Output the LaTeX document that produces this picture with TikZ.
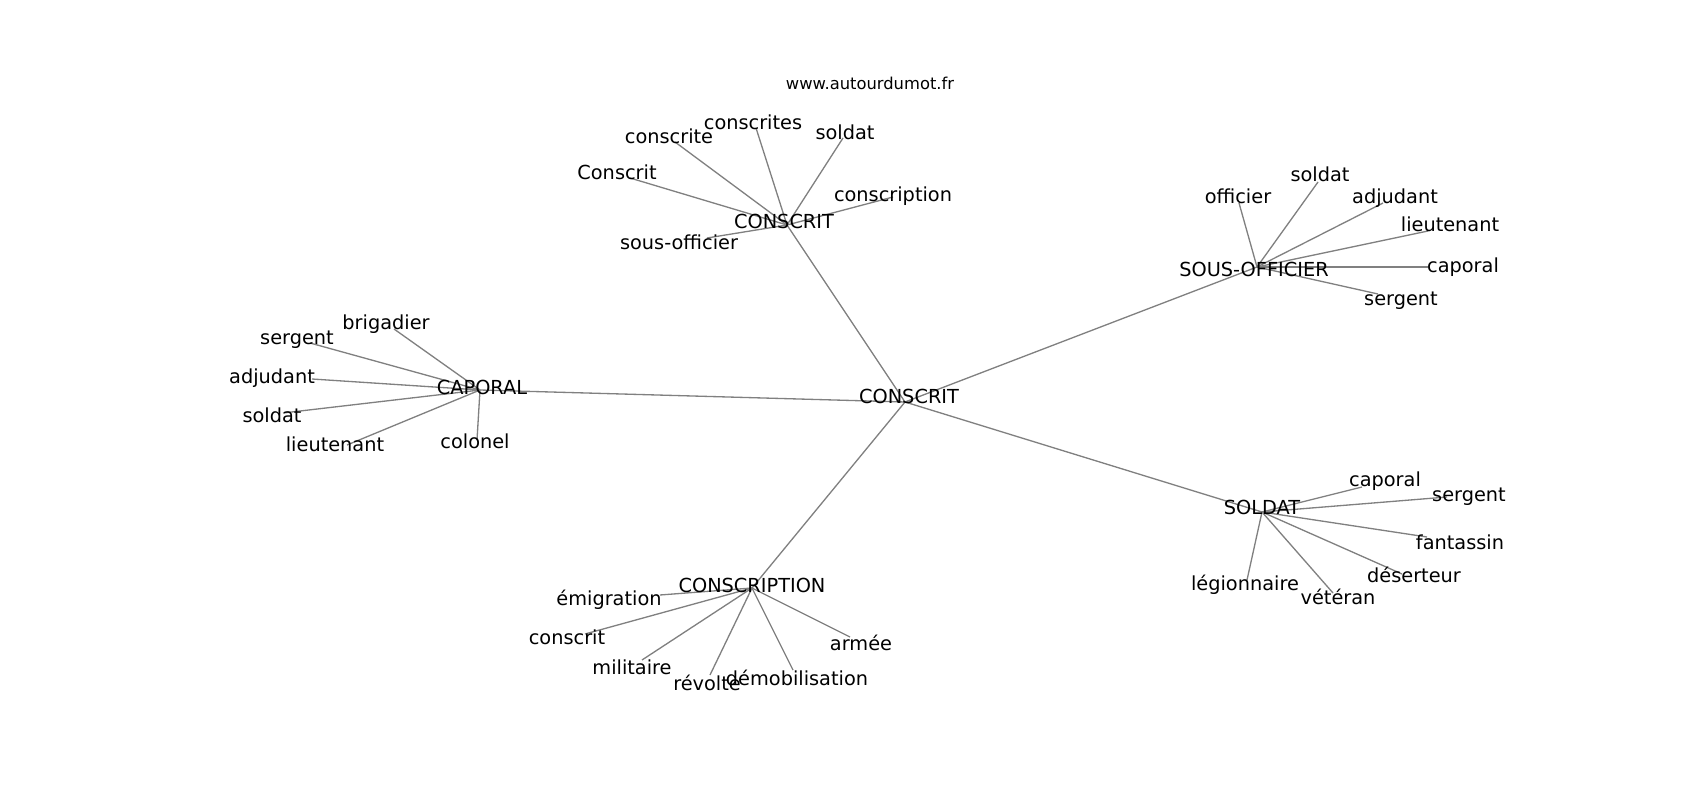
\documentclass[tikz,border=0pt]{standalone}
\usepackage{fontspec}
\setmainfont{DejaVu Sans}
\usepackage{tikz}

\begin{document}
\begin{tikzpicture}[x=0.02cm, y=-0.02cm,
  every node/.style={font=\fontsize{11}{13}\selectfont},
  word/.style={anchor=base, yshift=-0.14cm, inner sep=0pt},
  link/.style={draw=gray, line width=0.75pt}]

  \useasboundingbox (0,0) rectangle (1700,800);

  % points of the graph
  \coordinate (cons) at (905,402);
  \coordinate (cons2) at (787,225);
  \coordinate (sof) at (1257,267);
  \coordinate (cap) at (480,390);
  \coordinate (sol) at (1262,512);
  \coordinate (cpt) at (752,588);

  \coordinate (cons2-a) at (756,128);
  \coordinate (cons2-b) at (675,142);
  \coordinate (cons2-c) at (843,138);
  \coordinate (cons2-d) at (630,178);
  \coordinate (cons2-e) at (893,197);
  \coordinate (cons2-f) at (707,238);

  \coordinate (sof-a) at (1318,182);
  \coordinate (sof-b) at (1239,203);
  \coordinate (sof-c) at (1383,203);
  \coordinate (sof-d) at (1428,231);
  \coordinate (sof-e) at (1428,267);
  \coordinate (sof-f) at (1378,294);

  \coordinate (cap-a) at (394,329);
  \coordinate (cap-b) at (310,343);
  \coordinate (cap-c) at (312,379);
  \coordinate (cap-d) at (283,413);
  \coordinate (cap-e) at (347,445);
  \coordinate (cap-f) at (477,440);

  \coordinate (sol-a) at (1362,487);
  \coordinate (sol-b) at (1447,497);
  \coordinate (sol-c) at (1427,537);
  \coordinate (sol-d) at (1402,574);
  \coordinate (sol-e) at (1333,593);
  \coordinate (sol-f) at (1247,580);

  \coordinate (cpt-a) at (660,595);
  \coordinate (cpt-b) at (585,634);
  \coordinate (cpt-c) at (642,660);
  \coordinate (cpt-d) at (710,675);
  \coordinate (cpt-e) at (793,670);
  \coordinate (cpt-f) at (850,637);

  % edges
  \foreach \h in {cons2, sof, cap, sol, cpt} {
    \draw[link] (cons) -- (\h);
    \foreach \l in {a,b,c,d,e,f}
      \draw[link] (\h) -- (\h-\l);
  }

  % labels
  \node[font=\fontsize{9.3}{11}\selectfont, word] (site) at (870,83) {www.autourdumot.fr};

  \node[word] (t-cons) at (909,397) {CONSCRIT};
  \node[word] (t-cons2) at (784,222) {CONSCRIT};
  \node[word] (t-sof) at (1254,270) {SOUS-OFFICIER};
  \node[word] (t-cap) at (482,388) {CAPORAL};
  \node[word] (t-sol) at (1262,508) {SOLDAT};
  \node[word] (t-cpt) at (752,585) {CONSCRIPTION};

  \node[word] (t-cons2-a) at (753,123) {conscrites};
  \node[word] (t-cons2-b) at (669,137) {conscrite};
  \node[word] (t-cons2-c) at (845,133) {soldat};
  \node[word] (t-cons2-d) at (617,173) {Conscrit};
  \node[word] (t-cons2-e) at (893,195) {conscription};
  \node[word] (t-cons2-f) at (679,243) {sous-officier};

  \node[word] (t-sof-a) at (1320,175) {soldat};
  \node[word] (t-sof-b) at (1238,197) {officier};
  \node[word] (t-sof-c) at (1395,197) {adjudant};
  \node[word] (t-sof-d) at (1450,225) {lieutenant};
  \node[word] (t-sof-e) at (1463,266) {caporal};
  \node[word] (t-sof-f) at (1401,299) {sergent};

  \node[word] (t-cap-a) at (386,323) {brigadier};
  \node[word] (t-cap-b) at (297,338) {sergent};
  \node[word] (t-cap-c) at (272,377) {adjudant};
  \node[word] (t-cap-d) at (272,416) {soldat};
  \node[word] (t-cap-e) at (335,445) {lieutenant};
  \node[word] (t-cap-f) at (475,442) {colonel};

  \node[word] (t-sol-a) at (1385,480) {caporal};
  \node[word] (t-sol-b) at (1469,494) {sergent};
  \node[word] (t-sol-c) at (1460,542) {fantassin};
  \node[word] (t-sol-d) at (1414,575) {déserteur};
  \node[word] (t-sol-e) at (1338,597) {vétéran};
  \node[word] (t-sol-f) at (1245,583) {légionnaire};

  \node[word] (t-cpt-a) at (609,598) {émigration};
  \node[word] (t-cpt-b) at (567,637) {conscrit};
  \node[word] (t-cpt-c) at (632,667) {militaire};
  \node[word] (t-cpt-d) at (707,683) {révolte};
  \node[word] (t-cpt-e) at (797,678) {démobilisation};
  \node[word] (t-cpt-f) at (861,643) {armée};
\end{tikzpicture}
\end{document}
